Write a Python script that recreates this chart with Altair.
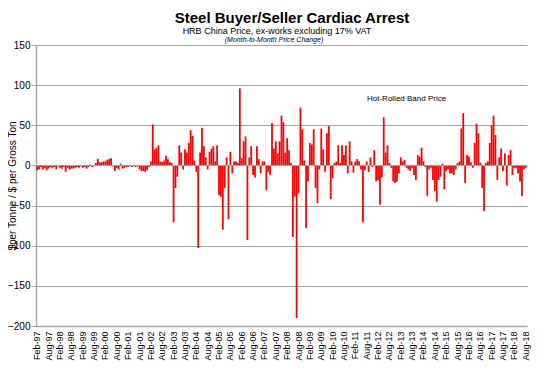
import altair as alt
import pandas as pd

# Month categories Feb-97 .. Aug-18
months = pd.date_range("1997-02-01", periods=259, freq="MS").strftime("%b-%y").tolist()
tick_labels = months[::6]

# Month-to-month price change ($/tonne)
chg_1997_2001 = [-6, -5, -2, -5, -3, -6, -4, -2, -3, -2, -5, -1, -3, -4, -2,
                 -8, -3, -5, -4, -4, -3, -2, -3, -1, -3, -2, -4, -2, 1, -2, -1,
                 3, 8, 4, 4, 5, 5, 7, 8, 9,
                 -1, -7, -3, -5, 2, -4,
                 -3, -2, -2, -1, -2, -1, -2, -1,
                 -5, -7, -7, -8, -6, -2]
chg_2002_2007 = [5, 51, 20, 22, 25, 5, 4, 6, 12, 8, 4, 3, -71, -28, -14,
                 25, 16, -5, 20, 16, 28, 44, 37, 6, -8, -103,
                 16, 47, 24, 10, -5, 17, 21, 24, 5, 25,
                 -37, -39, -80, -28, 10, -67, 17, -10, 5, 5, 3,
                 96,
                 9, 30, 36, -93, 10, 24, -12, -15, 24, 8, -10, 5, 5, -31, -8, -12,
                 53, 21, 30, 15]
chg_2007_2012 = [30, 62, 54, 16, 34, 19, 3,
                 -89, -39, -190, -35,
                 72, 45, 6, -78, -20,
                 28, 26, 45, -28, -47, -5,
                 46, 20, -8, 40, 49,
                 -42, -16, 3, 5,
                 25, 3, 25, 13, 25, -10,
                 30, 5, -9, 5, 8, 5, -5,
                 -71, -6, 5, -8, 10, -2,
                 19, -20, -18, -49, -15]
chg_2012_2018 = [60, 16, 25, 3, -3,
                 -20, -22, -20, -10, 10, 5,
                 7, -3, -5, -7, -3, -12, -18,
                 13, 11, 22, 5, -2,
                 -38, -5, -3, -18,
                 -32, -45, -18, -14, 2,
                 -30, -7, -5, -10, -10, -12, -5,
                 3, 5, 46, 65, -22,
                 13, 11, 4, -3,
                 28, 52, 40, 3,
                 -28, -57, 3, 5,
                 28, 50, 62, 38,
                 -18, 10, 21, -7, 15, -25, 13, 19,
                 -12, -3, -3, -10, -20, -38, -5, -3]
changes = chg_1997_2001 + chg_2002_2007 + chg_2007_2012 + chg_2012_2018

y_ticks = [-200, -150, -100, -50, 0, 50, 100, 150]

title_text = "Steel Buyer/Seller Cardiac Arrest"
subtitle_text = "HRB China Price, ex-works excluding 17% VAT"
note_text = "(Month-to-Month Price Change)"
series_label = "Hot-Rolled Band Price"

df = pd.DataFrame({"month": months, "change": changes})

FONT = "Liberation Sans"
GRID = "#a6a6a6"

x_enc = alt.X("month:O", sort=months,
              scale=alt.Scale(domain=months, paddingInner=0.05, paddingOuter=0.2),
              axis=alt.Axis(values=tick_labels, labelAngle=270, title=None,
                            ticks=False, labelPadding=5, labelFontSize=9,
                            labelFont=FONT, labelColor="#000000",
                            domainColor=GRID, domainWidth=1.5, grid=False))
y_enc = alt.Y("change:Q",
              scale=alt.Scale(domain=[-200, 150], nice=False, zero=False),
              axis=alt.Axis(values=y_ticks, title="$per Tonne / $ per Gross Ton",
                            titleFont=FONT, titleFontSize=10, titleFontWeight="normal",
                            titleColor="#000000", titleX=-24, titleBaseline="middle",
                            labelFont=FONT, labelFontSize=10, labelColor="#000000",
                            labelPadding=1, tickSize=5, tickColor=GRID,
                            domainColor=GRID, domainWidth=1.5,
                            grid=True, gridColor=GRID, gridWidth=1.2))

zero_rule = alt.Chart(pd.DataFrame({"z": [0]})).mark_rule(
    color="#a6a6a6", strokeWidth=1).encode(y=alt.Y("z:Q"))

bars = alt.Chart(df).mark_bar(color="#ff0000").encode(x=x_enc, y=y_enc)

def label(txt, x, y, size, weight="normal", style="normal", align="center", baseline="middle"):
    return alt.Chart(pd.DataFrame({"t": [txt]})).mark_text(
        font=FONT, fontSize=size, fontWeight=weight, fontStyle=style,
        align=align, baseline=baseline, color="#000000"
    ).encode(x=alt.value(x), y=alt.value(y), text="t:N")

chart = alt.layer(
    bars,
    zero_rule,
    label(title_text, 256, -27, 15, weight="bold"),
    label(subtitle_text, 241, -14, 9),
    label(note_text, 238, -5, 7, style="italic"),
    label(series_label, 331, 54, 8, align="left"),
).properties(
    width=491, height=281,
    padding={"left": 28, "top": 37, "right": 24, "bottom": 37},
    autosize="none",
).configure_view(strokeWidth=0)

chart.save("out.html", embed_options={"renderer": "svg", "actions": False})
